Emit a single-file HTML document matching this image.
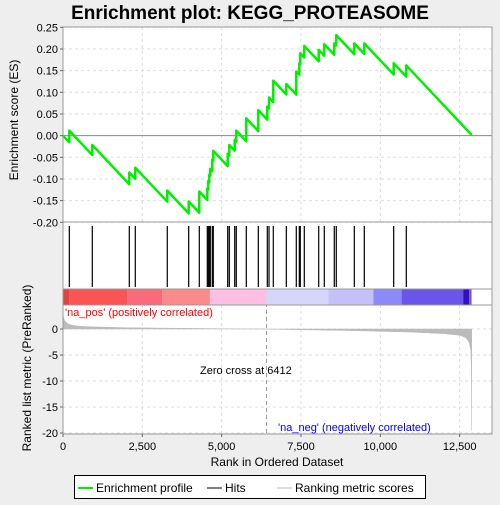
<!DOCTYPE html>
<html><head><meta charset="utf-8"><style>
body{margin:0;background:#eeeeee;font-family:"Liberation Sans","DejaVu Sans",sans-serif;}
svg text{font-family:"Liberation Sans","DejaVu Sans",sans-serif;}
</style></head><body>
<svg id="c" width="500" height="500" xmlns="http://www.w3.org/2000/svg">
<rect width="500" height="500" fill="#eeeeee"/>
<text x="250" y="19" text-anchor="middle" font-size="19" font-weight="bold" fill="#000">Enrichment plot: KEGG_PROTEASOME</text>
<rect x="63" y="27" width="429" height="407" fill="#fff"/>
<g id="grid"></g>
<g id="band"></g>
<g id="hits"></g>
<g id="metric"></g>
<g id="es"></g>
<g id="axes"></g>
<text x="200" y="374" font-size="11" fill="#000">Zero cross at 6412</text>
<text x="65" y="316" font-size="11" fill="#ff0000">'na_pos' (positively correlated)</text>
<text x="278" y="431" font-size="11" fill="#0000ee">'na_neg' (negatively correlated)</text>
<text x="18" y="120" font-size="12" fill="#000" transform="rotate(-90 18 120)" text-anchor="middle">Enrichment score (ES)</text>
<text x="31" y="368" font-size="12" fill="#000" transform="rotate(-90 31 368)" text-anchor="middle">Ranked list metric (PreRanked)</text>
<text x="277" y="466" font-size="12" fill="#000" text-anchor="middle">Rank in Ordered Dataset</text>
<g>
<rect x="74.5" y="475.5" width="351" height="23" fill="#fff" stroke="#000"/>
<line x1="78" y1="488" x2="93" y2="488" stroke="#00ee00" stroke-width="2"/>
<text x="96" y="492" font-size="12">Enrichment profile</text>
<line x1="207" y1="488" x2="222" y2="488" stroke="#000" stroke-width="1"/>
<text x="225" y="492" font-size="12">Hits</text>
<line x1="277" y1="488" x2="292" y2="488" stroke="#bbb" stroke-width="1"/>
<text x="295" y="492" font-size="12">Ranking metric scores</text>
</g>
</svg>
<script>
const hitRanks=[199,923,2089,2278,3286,3961,4295,4547,4579,4610,4642,4705,4736,5190,5241,5411,5461,5776,6155,6438,6492,6627,7037,7352,7447,7478,7604,8058,8234,8549,8612,9180,9495,10421,10818];
const esAfterHit=[0.0115,-0.0215,-0.085,-0.074,-0.127,-0.152,-0.129,-0.122,-0.105,-0.09,-0.077,-0.055,-0.035,-0.042,-0.0215,-0.01,0.0115,0.04,0.059,0.067,0.088,0.127,0.119,0.148,0.167,0.19,0.207,0.198,0.211,0.213,0.232,0.213,0.213,0.167,0.162];
const metricRanks=[0,50,150,300,600,1000,2000,3000,4000,5000,6000,6412,7000,8000,9000,10000,11000,12000,12500,12700,12800,12850,12870,12880];
const metricValues=[2.6,1.6,1.0,0.7,0.5,0.4,0.25,0.18,0.12,0.06,0.02,0,-0.1,-0.2,-0.3,-0.45,-0.6,-0.9,-1.2,-1.7,-2.6,-4,-8,-19.5];
const esTicks=[0.25,0.2,0.15,0.1,0.05,0,-0.05,-0.1,-0.15,-0.2];
const esTickLabels=["0.25","0.20","0.15","0.10","0.05","0.00","-0.05","-0.10","-0.15","-0.20"];
const metricTicks=[0,-5,-10,-15,-20];
const xTicks=[0,2500,5000,7500,10000,12500];
const xTickLabels=["0","2,500","5,000","7,500","10,000","12,500"];
const bandStops=[0,210,2040,3130,4630,6400,8360,9780,10670,12610,12800,12875];
const bandColors=["#e84040","#fa5555","#fb6a7a","#fd8a8a","#fdc0e4","#d6d6fb","#c6c0fa","#8a8af8","#6a55e8","#3010c0","#8050c0"];
const N=12880, zeroCross=6412, dropPerMiss=1/12845;

const NS="http://www.w3.org/2000/svg";
const BOT=434;
const X=r=>63+r*0.031733;
const YE=v=>222.3-(v+0.2)/0.45*195;
const YM=v=>329-v*5.2;
function mk(tag,attrs,parent){const e=document.createElementNS(NS,tag);for(const k in attrs)e.setAttribute(k,attrs[k]);document.getElementById(parent).appendChild(e);return e;}

xTicks.forEach(t=>{if(t>0){
 let g=mk('line',{x1:X(t),x2:X(t),y1:27,y2:222,stroke:'#ddd','stroke-dasharray':'3,3'},'grid');
 
 
 let g2=mk('line',{x1:X(t),x2:X(t),y1:305,y2:BOT,stroke:'#ddd','stroke-dasharray':'3,3'},'grid');
 
 }});
esTicks.forEach(t=>{
 let g=mk('line',{x1:63,x2:492,y1:YE(t),y2:YE(t),stroke:t===0?'#888':'#ddd','stroke-dasharray':t===0?'':'3,3'},'grid');
 
 });
metricTicks.forEach(t=>{
 let g=mk('line',{x1:63,x2:492,y1:YM(t),y2:YM(t),stroke:'#ddd','stroke-dasharray':'3,3'},'grid');
 
 });
let zc=mk('line',{x1:X(zeroCross),x2:X(zeroCross),y1:289,y2:BOT,stroke:'#999','stroke-dasharray':'4,3'},'grid');



for(let i=0;i<bandColors.length;i++){
 let r=mk('rect',{x:X(bandStops[i]),y:289,width:X(bandStops[i+1])-X(bandStops[i]),height:16,fill:bandColors[i]},'band');
 
 }

hitRanks.forEach(h=>{
 let l=mk('line',{x1:X(h),x2:X(h),y1:226,y2:287,stroke:'#000','stroke-width':1.2},'hits');
 
 });

let d='M'+X(0)+','+YM(0);
metricRanks.forEach((r,i)=>{d+=' L'+X(r)+','+YM(metricValues[i]);});
d+=' L'+X(N)+','+YM(0)+' Z';
let ma=mk('path',{d:d,fill:'#bbbbbb',stroke:'#bbbbbb','stroke-width':0.5},'metric');



let pts=[[0,0]],prevR=0,prevV=0;
hitRanks.forEach((h,i)=>{const before=prevV-(h-prevR)*dropPerMiss;pts.push([h,before]);pts.push([h,esAfterHit[i]]);prevR=h;prevV=esAfterHit[i];});
pts.push([N,prevV-(N-prevR)*dropPerMiss]);
let es=mk('polyline',{points:pts.map(p=>X(p[0])+','+YE(p[1])).join(' '),fill:'none',stroke:'#00ee00','stroke-width':2.5,'stroke-linejoin':'round'},'es');



[[27,222],[222,289],[289,305],[305,BOT]].forEach(([a,b])=>{
 let r=mk('rect',{x:63,y:a,width:429,height:b-a,fill:'none',stroke:'#999'},'axes');
 
 });
esTicks.forEach((t,i)=>{
 let tx=mk('text',{x:58,y:YE(t)+4,'font-size':11,'text-anchor':'end'},'axes');tx.textContent=esTickLabels[i];
 
 
 let tk=mk('line',{x1:60,x2:63,y1:YE(t),y2:YE(t),stroke:'#666'},'axes');
 
 });
metricTicks.forEach(t=>{
 let tx=mk('text',{x:58,y:YM(t)+4,'font-size':11,'text-anchor':'end'},'axes');tx.textContent=String(t);
 
 
 let tk=mk('line',{x1:60,x2:63,y1:YM(t),y2:YM(t),stroke:'#666'},'axes');
 
 });
xTicks.forEach((t,i)=>{
 let tx=mk('text',{x:X(t),y:450,'font-size':11,'text-anchor':'middle'},'axes');tx.textContent=xTickLabels[i];
 
 
 let tk=mk('line',{x1:X(t),x2:X(t),y1:BOT,y2:BOT+3,stroke:'#666'},'axes');
 
 });
</script>
</body></html>
